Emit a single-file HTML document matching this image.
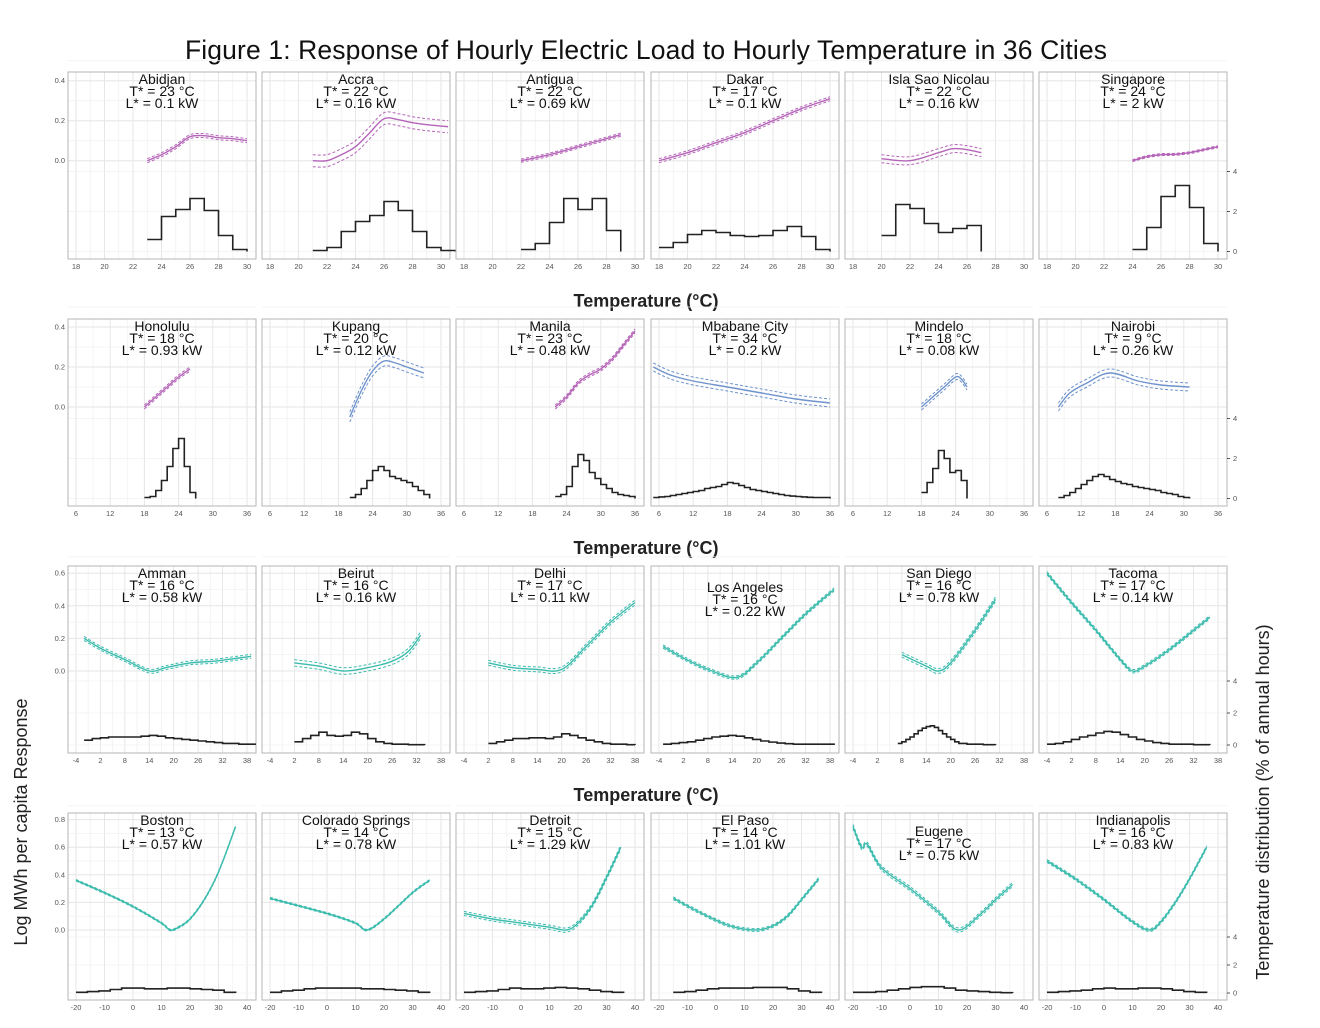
<!DOCTYPE html>
<html><head><meta charset="utf-8">
<style>
html,body{margin:0;padding:0;background:#fff;}
svg{display:block;font-family:"Liberation Sans",sans-serif;}
</style></head>
<body>
<svg id="fig" width="1320" height="1028" viewBox="0 0 1320 1028" xmlns="http://www.w3.org/2000/svg">
<text x="646" y="59" text-anchor="middle" font-size="26.5" fill="#111" textLength="922" lengthAdjust="spacing">Figure 1: Response of Hourly Electric Load to Hourly Temperature in 36 Cities</text>
<text x="646" y="307" text-anchor="middle" font-size="18" font-weight="bold" fill="#222">Temperature (°C)</text>
<text x="646" y="554" text-anchor="middle" font-size="18" font-weight="bold" fill="#222">Temperature (°C)</text>
<text x="646" y="801" text-anchor="middle" font-size="18" font-weight="bold" fill="#222">Temperature (°C)</text>
<text transform="translate(27,822) rotate(-90)" text-anchor="middle" font-size="18" fill="#222">Log MWh per capita Response</text>
<text transform="translate(1269,802) rotate(-90)" text-anchor="middle" font-size="18" fill="#222">Temperature distribution (% of annual hours)</text>
<g id="panels"></g>
</svg>
<script>
// ---- data ----
const cityNames = ["Abidjan","Accra","Antigua","Dakar","Isla Sao Nicolau","Singapore",
"Honolulu","Kupang","Manila","Mbabane City","Mindelo","Nairobi",
"Amman","Beirut","Delhi","Los Angeles","San Diego","Tacoma",
"Boston","Colorado Springs","Detroit","El Paso","Eugene","Indianapolis"];
const tStar = [23,22,22,17,22,24, 18,20,23,34,18,9, 16,16,17,16,16,17, 13,14,15,14,17,16];
const lStar = ["0.1","0.16","0.69","0.1","0.16","2", "0.93","0.12","0.48","0.2","0.08","0.26", "0.58","0.16","0.11","0.22","0.78","0.14", "0.57","0.78","1.29","1.01","0.75","0.83"];
const rowXTicks = [[18,20,22,24,26,28,30],[6,12,18,24,30,36],[-4,2,8,14,20,26,32,38],[-20,-10,0,10,20,30,40]];
const rowYTicks = [[0,0.2,0.4],[0,0.2,0.4],[0,0.2,0.4,0.6],[0,0.2,0.4,0.6,0.8]];
const rowHTicks = [[0,2,4],[0,2,4],[0,2,4],[0,2,4]];
const curveT = [
[23,24,25,26,27,28,29,30],[21,22,23,24,25,26,27,28,29,30.5],[22,24,26,28,29],[18,20,22,24,26,28,30],[20,22,24,25,26,27],[24,25,26,27,28,29,30],
[18,20,22,24,26],[20,22,24,26,28,30,33],[22,24,26,28,30,32,34,36],[5,8,12,18,24,30,36],[18,20,22,24,25,26],[8,10,13,17,22,26,31],
[-2,2,8,14,18,24,30,36,39],[2,8,14,20,26,30,33],[2,8,14,20,26,32,38],[-3,2,8,15,20,26,32,39],[8,14,17,20,26,31],[-4,2,8,14,17,20,26,32,36],
[-20,-10,0,10,13,16,20,25,30,36],[-20,0,10,14,20,30,36],[-20,-10,0,10,16,20,25,30,35],[-15,-5,5,14,20,25,30,36],[-20,-17,-15,-10,0,10,17,25,30,36],[-20,-10,0,10,16,20,25,30,36]];
const curveR = [
[0,0.03,0.07,0.12,0.125,0.115,0.11,0.1],[0,0,0.03,0.07,0.14,0.21,0.205,0.19,0.18,0.17],[0,0.03,0.07,0.11,0.13],[0,0.04,0.09,0.14,0.2,0.26,0.31],[0.01,0,0.04,0.06,0.055,0.04],[0,0.02,0.03,0.032,0.04,0.055,0.07],
[0,0.05,0.1,0.15,0.19],[-0.05,0.08,0.18,0.23,0.22,0.2,0.17],[0,0.05,0.12,0.16,0.19,0.24,0.31,0.38],[0.2,0.16,0.13,0.1,0.07,0.04,0.02],[0,0.05,0.1,0.15,0.14,0.1],[0,0.07,0.12,0.17,0.13,0.11,0.1],
[0.2,0.14,0.07,0,0.02,0.05,0.06,0.08,0.09],[0.05,0.03,0,0.02,0.06,0.12,0.22],[0.05,0.02,0.01,0.01,0.15,0.3,0.42],[0.15,0.08,0.01,-0.04,0.05,0.2,0.35,0.5],[0.1,0.03,0,0.05,0.25,0.44],[0.6,0.42,0.25,0.07,0,0.03,0.13,0.25,0.33],
[0.36,0.27,0.17,0.05,0,0.02,0.08,0.22,0.42,0.75],[0.23,0.12,0.05,0,0.08,0.27,0.36],[0.12,0.08,0.05,0.02,0,0.05,0.18,0.38,0.6],[0.23,0.12,0.03,0,0.03,0.1,0.22,0.37],[0.75,0.6,0.62,0.45,0.3,0.13,0,0.12,0.22,0.33],[0.5,0.37,0.22,0.06,0,0.06,0.2,0.37,0.6]];
const ciWidth = [0.01,0.03,0.008,0.01,0.02,0.005, 0.01,0.025,0.01,0.02,0.015,0.02, 0.012,0.02,0.015,0.01,0.015,0.01, 0.006,0.006,0.015,0.01,0.015,0.01];
const histStart = [23,21,22,18,20,24, 18,20,22,5,18,8, -2,2,2,-3,7,-4, -20,-20,-20,-15,-20,-20];
const histStep = [1,1,1,1,1,1, 1,1,1,1,1,1, 2,2,2,2,1,2, 4,4,4,4,4,4];
const histVals = [
[0.6,1.75,2.1,2.65,2.05,0.8,0.1],[0.05,0.2,1.0,1.5,1.8,2.5,2.05,1.0,0.2,0.05],[0.1,0.4,1.45,2.65,2.1,2.65,1.05],[0.2,0.45,0.85,1.05,0.95,0.8,0.75,0.8,1.05,1.25,0.75,0.1],[0.8,2.35,2.15,1.4,0.95,1.15,1.3],[0.1,1.2,2.75,3.3,2.2,0.4],
[0.05,0.1,0.4,0.9,1.6,2.5,3.0,1.6,0.3],[0.05,0.2,0.5,0.9,1.4,1.6,1.4,1.1,1.0,0.9,0.8,0.6,0.4,0.2],[0.1,0.2,0.6,1.6,2.2,1.9,1.3,1.0,0.7,0.5,0.3,0.2,0.15,0.1],
[0.05,0.08,0.1,0.15,0.2,0.25,0.3,0.35,0.4,0.5,0.55,0.6,0.7,0.8,0.75,0.65,0.55,0.45,0.4,0.35,0.3,0.25,0.2,0.15,0.12,0.1,0.08,0.06,0.05,0.05,0.05],
[0.3,0.8,1.5,2.4,2.0,1.3,1.4,0.9],[0.05,0.15,0.3,0.5,0.7,0.9,1.1,1.2,1.1,0.95,0.85,0.75,0.7,0.6,0.55,0.5,0.45,0.4,0.3,0.25,0.2,0.1,0.05],
[0.3,0.4,0.45,0.5,0.5,0.5,0.5,0.55,0.6,0.55,0.45,0.4,0.35,0.3,0.25,0.2,0.15,0.1,0.1,0.05,0.05],[0.2,0.4,0.6,0.8,0.6,0.55,0.6,0.8,0.7,0.4,0.2,0.1,0.05,0.05,0.02,0.02],
[0.1,0.2,0.3,0.4,0.4,0.45,0.45,0.4,0.5,0.7,0.6,0.45,0.3,0.2,0.1,0.05,0.05,0.02],[0.05,0.1,0.15,0.2,0.3,0.4,0.5,0.55,0.6,0.55,0.45,0.35,0.25,0.18,0.12,0.08,0.05,0.05,0.05,0.05,0.05],
[0.1,0.2,0.35,0.5,0.7,0.9,1.05,1.15,1.2,1.1,0.9,0.7,0.5,0.35,0.2,0.1,0.1,0.05,0.05,0.05,0.05,0.02,0.02,0.02],
[0.05,0.1,0.2,0.35,0.5,0.6,0.75,0.85,0.8,0.65,0.5,0.35,0.25,0.15,0.1,0.05,0.05,0.05,0.02,0.02],
[0.05,0.1,0.15,0.25,0.35,0.35,0.3,0.3,0.35,0.35,0.3,0.25,0.2,0.05],[0.05,0.15,0.2,0.3,0.35,0.35,0.35,0.35,0.3,0.3,0.25,0.2,0.15,0.05],
[0.05,0.1,0.15,0.25,0.35,0.3,0.3,0.35,0.4,0.35,0.3,0.2,0.1,0.05],[0.05,0.1,0.2,0.3,0.35,0.35,0.35,0.4,0.4,0.4,0.3,0.15,0.05],
[0.05,0.05,0.1,0.2,0.3,0.4,0.45,0.45,0.35,0.2,0.15,0.1,0.05,0.02],[0.05,0.1,0.15,0.2,0.3,0.35,0.3,0.3,0.35,0.35,0.3,0.2,0.1,0.05]];
const titleShift = [0,0,0,0,0,0, 0,0,0,0,0,0, 0,0,0,14,0,0, 0,0,0,0,11,0];
// ---- layout ----
const colX = [68,262,456,651,845,1039], panelW = 188, panelH = 187;
const rowY = [72,319,566,813];
const rowZero = [88.7,88,105,117], rowScale = [200,200,163,138];
const rowHZero = [179.5,179.5,179,180], rowHScale = [20,20,16,14];
const purple = "#b565b8", blue = "#6f93cc", teal = "#3cbcae";
const colorOf = i => i < 6 ? purple : i < 12 ? ([6,8].includes(i) ? purple : blue) : teal;
const NS = "http://www.w3.org/2000/svg";
const root = document.getElementById("panels");
function mk(tag, attrs, parent){ const e=document.createElementNS(NS,tag); for(const k in attrs) e.setAttribute(k,attrs[k]); parent.appendChild(e); return e; }
function smooth(pts){
  let d="M"+pts[0][0].toFixed(1)+","+pts[0][1].toFixed(1);
  for(let k=0;k<pts.length-1;k++){
    const p0=pts[Math.max(0,k-1)],p1=pts[k],p2=pts[k+1],p3=pts[Math.min(pts.length-1,k+2)];
    const c1=[p1[0]+(p2[0]-p0[0])/6,p1[1]+(p2[1]-p0[1])/6];
    const c2=[p2[0]-(p3[0]-p1[0])/6,p2[1]-(p3[1]-p1[1])/6];
    d+=" C"+c1[0].toFixed(1)+","+c1[1].toFixed(1)+" "+c2[0].toFixed(1)+","+c2[1].toFixed(1)+" "+p2[0].toFixed(1)+","+p2[1].toFixed(1);
  }
  return d;
}

for(let i=0;i<24;i++){
  const r=Math.floor(i/6), c=i%6;
  const x0=colX[c], y0=rowY[r];
  const xt=rowXTicks[r], tmin=xt[0], tmax=xt[xt.length-1];
  const pxPer=(panelW-17)/(tmax-tmin);
  const sx=t=>x0+8+(t-tmin)*pxPer;
  const sy=v=>y0+rowZero[r]-v*rowScale[r];
  const sh=v=>y0+rowHZero[r]-v*rowHScale[r];
  const g=mk("g",{},root);
  
  
  for(let k=0;k<xt.length;k++){
    mk("line",{x1:sx(xt[k]),x2:sx(xt[k]),y1:y0,y2:y0+panelH,stroke:"#e6e6e6","stroke-width":1},g);
    if(k<xt.length-1){const m=(xt[k]+xt[k+1])/2;mk("line",{x1:sx(m),x2:sx(m),y1:y0,y2:y0+panelH,stroke:"#f2f2f2","stroke-width":0.8},g);}
  }
  const yt=rowYTicks[r];
  for(let k=0;k<yt.length;k++){
    mk("line",{x1:x0,x2:x0+panelW,y1:sy(yt[k]),y2:sy(yt[k]),stroke:"#e6e6e6","stroke-width":1},g);
    mk("line",{x1:x0,x2:x0+panelW,y1:sy(yt[k]+0.1),y2:sy(yt[k]+0.1),stroke:"#f2f2f2","stroke-width":0.8},g);
  }
  for(const h of rowHTicks[r]) mk("line",{x1:x0,x2:x0+panelW,y1:sh(h),y2:sh(h),stroke:"#f0f0f0","stroke-width":0.8},g);
  mk("rect",{x:x0,y:y0,width:panelW,height:panelH,fill:"none",stroke:"#b5b5b5","stroke-width":1},g);
  for(const t of xt){
    const tl=mk("text",{x:sx(t),y:y0+panelH+10,"text-anchor":"middle","font-size":7.5,fill:"#555"},g);
    
    
    tl.textContent=t;
  }
  if(c===0){
    for(const v of yt){
      const tl=mk("text",{x:x0-3,y:sy(v)+2.5,"text-anchor":"end","font-size":7.5,fill:"#555"},g);
      
      
      tl.textContent=v.toFixed(1);
    }
  }
  if(c===5){
    for(const h of rowHTicks[r]){
      mk("line",{x1:x0+panelW,x2:x0+panelW+3,y1:sh(h),y2:sh(h),stroke:"#555"},g);
      const tl=mk("text",{x:x0+panelW+6,y:sh(h)+2.5,"font-size":7.5,fill:"#555"},g);
      
      
      tl.textContent=h;
    }
  }
  const hv=histVals[i], hs=histStart[i], st=histStep[i];
  let d="M"+sx(hs)+","+sh(hv[0]);
  for(let k=0;k<hv.length;k++){
    d+=" L"+sx(hs+(k+1)*st)+","+sh(hv[k]);
    if(k<hv.length-1) d+=" L"+sx(hs+(k+1)*st)+","+sh(hv[k+1]);
  }
  d+=" L"+sx(hs+hv.length*st)+","+sh(0);
  const hp=mk("path",{d:d,fill:"none",stroke:"#222","stroke-width":1.6},g);
  
  
  const T=curveT[i], R=curveR[i], ci=ciWidth[i], col=colorOf(i);
  const line=off=>smooth(T.map((t,k)=>[sx(t),sy(R[k]+off)]));
  const cm=mk("path",{d:line(0),fill:"none",stroke:col,"stroke-width":1.4},g);
  
  
  for(const s of [1,-1]){
    const cb=mk("path",{d:line(s*ci),fill:"none",stroke:col,"stroke-width":1,"stroke-dasharray":"3,2"},g);
    
    
  }
  const cx=x0+panelW/2, ty=y0+12+titleShift[i];
  const lines=[cityNames[i],"T* = "+tStar[i]+" °C","L* = "+lStar[i]+" kW"];
  lines.forEach((s,k)=>{
    const tt=mk("text",{x:cx,y:ty+k*12,"text-anchor":"middle","font-size":14,fill:"#111"},g);
    
    
    tt.textContent=s;
  });
}
</script>
</body></html>
